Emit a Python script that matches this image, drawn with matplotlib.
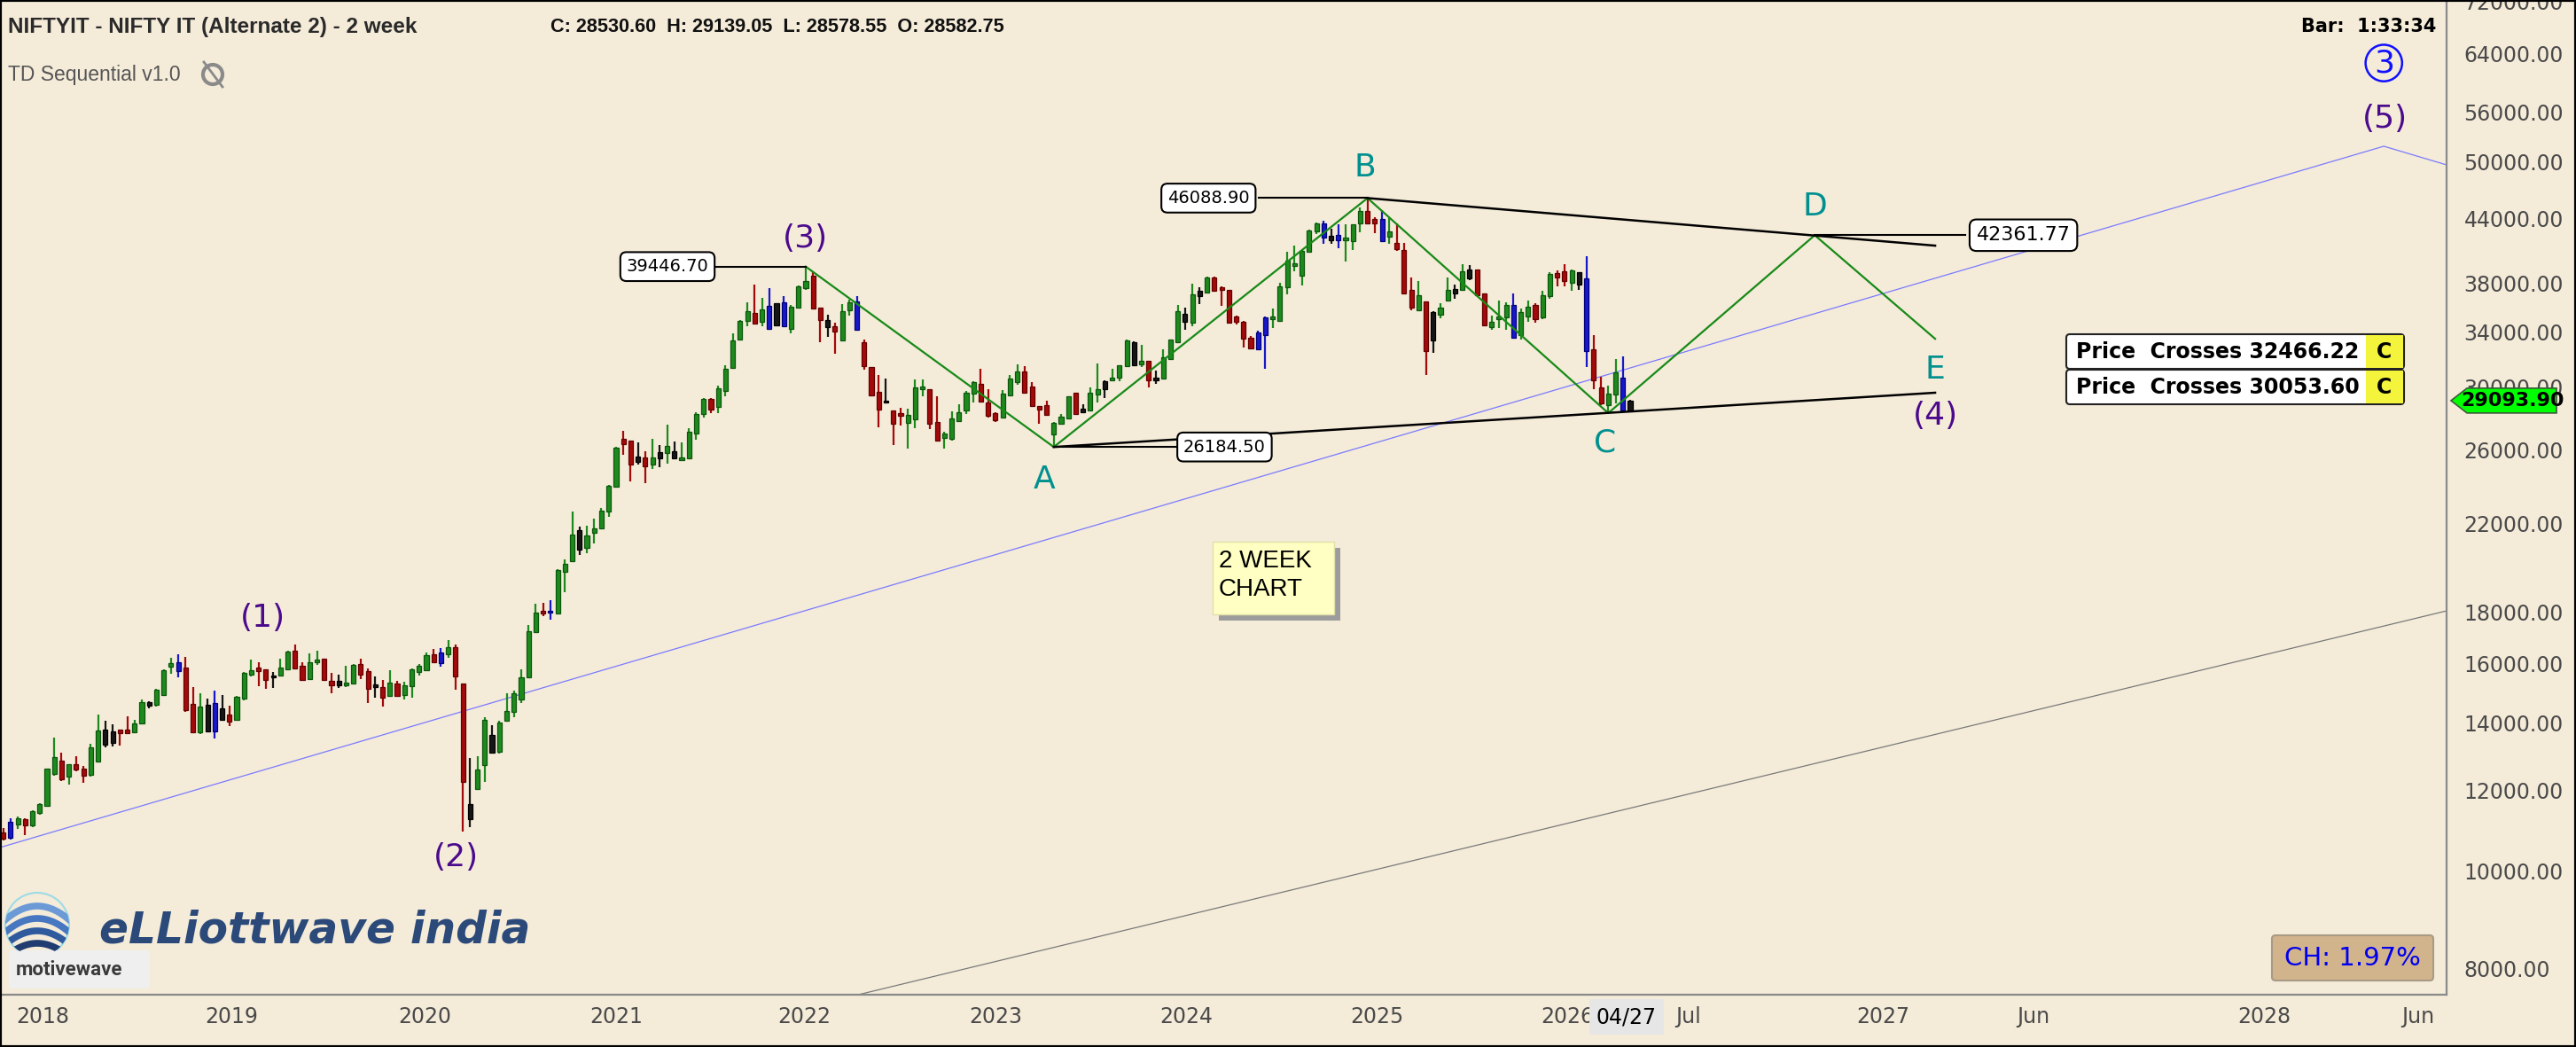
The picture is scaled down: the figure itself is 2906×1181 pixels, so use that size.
import numpy as np
import pandas as pd
import matplotlib
matplotlib.use("Agg")
import matplotlib.pyplot as plt
import matplotlib.transforms as mtransforms
from matplotlib.patches import Rectangle, FancyBboxPatch, Polygon, Circle
from matplotlib.ticker import NullLocator

W, H = 2906, 1181
BG = "#f4ebd9"

# ---------------- data ----------------
bar_dates = pd.date_range(end="2026-04-27", periods=224, freq="14D")

opens = [
    10905, 10780, 11097, 11239, 11075, 11398, 11583, 12454, 12836, 12388,
    12733, 12622, 12438, 12827, 13772, 13363, 13790, 13772, 13708, 13986,
    14679, 14581, 14908, 15910, 16071, 15857, 14601, 13699, 14581, 13727,
    14455, 14262, 14099, 14777, 15624, 15857, 15802, 15593, 15572, 15802,
    16486, 15942, 15457, 16049, 16179, 15385, 15251, 15231, 15313, 15996,
    15749, 15180, 15180, 14878, 15303, 14898, 15210, 15697, 15770, 16342,
    16017, 16342, 16620, 15287, 11235, 12036, 12706, 13610, 13110, 14052,
    14334, 14770, 15526, 17200, 18052, 17976, 17930, 19705, 20221, 21660,
    20838, 21568, 21755, 22614, 23913, 26676, 26562, 25290, 25553, 25180,
    25509, 25840, 25950, 25400, 25509, 26976, 28210, 29225, 28698, 29710,
    31365, 33450, 34863, 35472, 34773, 34270, 36300, 34477, 34270, 35930,
    37570, 38620, 35930, 34923, 34420, 33360, 35690, 36460, 33220, 31400,
    29700, 29085, 28430, 28300, 27680, 27860, 29860, 29860, 27720, 26730,
    26680, 27770, 28430, 29540, 30200, 28970, 28300, 28010, 29460, 30360,
    31070, 30040, 28720, 28810, 26950, 27620, 27960, 29640, 28560, 28430,
    29500, 29860, 30450, 30650, 31440, 33240, 31620, 31860, 30460, 30610,
    31970, 33220, 35400, 34700, 37310, 37190, 38500, 37630, 37440, 35190,
    34820, 33580, 32690, 33740, 35010, 34890, 37630, 39500, 38670, 40800,
    42730, 43550, 42330, 41890, 41910, 41830, 43490, 44730, 43990, 43990,
    42250, 41610, 40990, 37450, 35710, 36450, 33370, 35370, 36500, 37150,
    37400, 38410, 39190, 37150, 34370, 35010, 35130, 36160, 33740, 35250,
    36160, 35130, 36900, 38850, 39060, 38000, 38930, 38410, 32700, 30000,
    28820, 29500, 30620, 29090,
]
highs = [
    11020, 11260, 11320, 11261, 11475, 11661, 12622, 13525, 13070, 12750,
    12983, 12690, 13345, 14272, 14070, 13940, 13790, 14195, 14099, 14748,
    14698, 15108, 15802, 16233, 16342, 16266, 15180, 14977, 14777, 15047,
    14898, 14552, 14878, 15708, 16157, 16049, 15802, 15697, 16179, 16486,
    16709, 16071, 16375, 16486, 16179, 15676, 15624, 15932, 15985, 16200,
    15835, 15540, 15415, 15781, 15385, 15354, 15824, 15985, 16420, 16541,
    16597, 16880, 16731, 15287, 12925, 12959, 14185, 13930, 14052, 14953,
    15043, 15796, 17469, 18346, 18362, 18472, 19824, 20274, 22614, 21851,
    21890, 22267, 22808, 24016, 26182, 27163, 26562, 26450, 25950, 26676,
    26290, 27546, 26517, 26450, 27328, 28356, 29275, 29275, 30096, 31554,
    33885, 34923, 36363, 37894, 36774, 37570, 36300, 36869, 36145, 37800,
    39447, 38990, 35930, 35380, 34715, 36240, 36620, 36890, 33400, 31400,
    30810, 30560, 28430, 28620, 28580, 30510, 30510, 29860, 29360, 27090,
    28390, 28870, 29760, 30400, 31270, 29840, 28340, 29800, 30860, 31610,
    31440, 30340, 28760, 29110, 27720, 28200, 29400, 29640, 28850, 29960,
    31650, 30460, 31290, 31540, 33400, 33290, 32990, 31860, 31130, 32690,
    33440, 36150, 35910, 37940, 37630, 38580, 38580, 37690, 37440, 35290,
    34890, 33670, 34080, 35190, 35840, 37990, 40770, 41400, 40990, 42880,
    43640, 43760, 42960, 43400, 43400, 43460, 45120, 46089, 44140, 44880,
    44050, 43550, 41630, 38460, 38150, 36450, 35680, 36330, 38460, 37830,
    39640, 39560, 39190, 37150, 35300, 36500, 36400, 37120, 35850, 36500,
    36330, 37320, 38980, 39110, 39640, 39160, 38980, 40390, 33740, 30720,
    30100, 31980, 32190, 29140,
]
lows = [
    10710, 10730, 11000, 10853, 11037, 11352, 11568, 12413, 12272, 12165,
    12538, 12222, 12388, 12810, 13229, 13274, 13292, 13663, 13690, 13940,
    14455, 14533, 14878, 15645, 15519, 14339, 13699, 13635, 13727, 13517,
    14099, 13884, 14070, 14727, 15540, 15210, 15129, 15149, 15540, 15781,
    15802, 15385, 15436, 15963, 15415, 14977, 15149, 15180, 15282, 15457,
    14650, 14808, 14514, 14848, 14848, 14748, 14828, 15572, 15728, 16017,
    15910, 16233, 15078, 10930, 11044, 12036, 12243, 13047, 13047, 14027,
    14172, 14644, 15526, 17170, 17823, 17700, 17930, 18826, 20221, 20483,
    20571, 21013, 21718, 22363, 23872, 25730, 24224, 25180, 24120, 24921,
    25029, 25225, 25443, 25355, 25443, 26630, 27995, 28283, 28283, 29406,
    31284, 33364, 34477, 34623, 34477, 34270, 34477, 34420, 33885, 35840,
    37410, 35840, 33220, 33600, 32380, 33310, 35260, 34120, 31230, 29400,
    27360, 28910, 26320, 27490, 26110, 27310, 29400, 27270, 26550, 26110,
    26550, 27730, 28240, 28970, 29010, 28010, 27730, 28010, 29460, 30160,
    29560, 28660, 27590, 28150, 26185, 27590, 27920, 28240, 28280, 28370,
    28970, 29260, 30400, 30400, 31380, 31440, 31420, 30000, 30240, 30570,
    31910, 33130, 34190, 34420, 36200, 37140, 37310, 36080, 34630, 34590,
    32840, 32690, 32630, 31270, 34330, 34860, 37060, 39030, 37780, 40720,
    42450, 41550, 41550, 41130, 39910, 40990, 42680, 43550, 42530, 41830,
    41550, 40910, 37150, 35730, 35710, 30860, 32410, 35060, 36450, 36700,
    37320, 38250, 36950, 34430, 34200, 34310, 34200, 33520, 33410, 34830,
    34730, 35010, 36700, 37750, 37750, 37320, 37450, 31400, 29840, 28780,
    28280, 28920, 28400, 28400,
]
closes = [
    10765, 11186, 11261, 11075, 11452, 11630, 12605, 12949, 12313, 12733,
    12580, 12413, 13229, 13754, 13318, 13727, 13663, 13663, 13986, 14679,
    14552, 15078, 15770, 16017, 15728, 14416, 13699, 14533, 13727, 14630,
    14099, 14033, 14858, 15687, 15781, 15728, 15436, 15519, 15878, 16464,
    15835, 15436, 16049, 16157, 15436, 15251, 15385, 15334, 15963, 15624,
    15129, 15282, 14808, 15334, 14878, 15251, 15802, 15942, 16320, 16049,
    16420, 16620, 15561, 12243, 11627, 12597, 14088, 13073, 14003, 14369,
    14953, 15526, 17245, 17976, 17930, 18052, 19790, 20099, 21475, 20749,
    21420, 21755, 22672, 23954, 26137, 26336, 25180, 25619, 25072, 25575,
    25906, 26250, 25509, 25575, 27093, 28234, 29200, 28527, 29915, 31284,
    33364, 34863, 35624, 34623, 35776, 36083, 34538, 36394, 35990, 37734,
    38160, 35900, 34923, 34385, 34040, 35624, 36360, 34190, 31440, 29440,
    28490, 28970, 27620, 28090, 28150, 30000, 30060, 27590, 26550, 26980,
    27960, 28330, 29640, 30340, 29010, 28090, 27810, 29560, 30610, 31070,
    29600, 28720, 28530, 28180, 27680, 28070, 29360, 28240, 28330, 29600,
    29860, 30400, 30650, 31500, 33350, 31540, 31820, 30460, 30650, 32080,
    33400, 35670, 34770, 37060, 36860, 38500, 37310, 37380, 34700, 34820,
    33510, 32730, 33960, 35120, 35190, 37730, 39950, 39750, 40850, 42820,
    43490, 42110, 41890, 42390, 42110, 43400, 44730, 43550, 43550, 41830,
    42760, 41080, 37150, 35970, 36950, 32570, 35610, 35920, 37450, 37500,
    39030, 39190, 37000, 34500, 34830, 35250, 36160, 33560, 35610, 36010,
    35010, 36950, 38780, 38510, 38150, 39110, 37900, 32570, 30450, 28920,
    29560, 31020, 28440, 28440,
]
# candle colour codes as drawn (g up, r down, k / b TD sequential marks)
bar_colors = ("rbgrggggrg" "rrggkkrrgg" "kgggbrrgkb" "krgggrrkgg" "rrggrrkggr"
              "rkrgrggggr" "bgrrkggkgg" "ggggrbgggk" "gggggrrkrg" "kgkggggrgg"
              "gggrgbkbgg" "grrkrggbrr" "rkrrgggrrg" "ggggrrrggg" "rrrrgggrkg"
              "gkgggkgrkg" "ggkgkgrrrr" "rrbbgggggg" "gbkbgggrrb" "grrrgrkggk"
              "gkrrgggbgg" "rggrrgkbrr" "ggbk")

# wave count (bar index, price)
wave_x = [110, 144, 187, 220, 248.3, 264.8]
wave_y = [39446.70, 26184.50, 46088.90, 28280, 42361.77, 33480]
upper_x, upper_y = [187, 264.8], [46088.90, 41370]
lower_x, lower_y = [144, 264.8], [26184.50, 29620]
channel_x, channel_y = [-0.44, 326.3, 334.9], [10542, 51850, 49700]
base_x, base_y = [116.7, 334.9], [7531, 18046]

wave_labels = ["(1)", "(2)", "(3)", "A", "B", "C", "D", "E", "(4)", "(5)"]
label_x = [35.6, 62.1, 109.9, 142.7, 186.7, 219.5, 248.3, 264.8, 264.8, 326.4]
label_y = [17760, 10310, 42050, 24310, 49400, 26410, 45220, 31210, 28110, 55200]
label_col = ["p", "p", "p", "t", "t", "t", "t", "t", "p", "p"]

price_ticks = [8000, 10000, 12000, 14000, 16000, 18000, 22000, 26000, 30000,
               34000, 38000, 44000, 50000, 56000, 64000, 72000]
time_tick_x = [1.8, 27.7, 54.2, 80.4, 106.2, 132.4, 158.5, 184.6, 210.8,
               229.2, 254.0, 276.0, 306.2, 328.7]
time_tick_text = ["2018", "2019", "2020", "2021", "2022", "2023", "2024", "2025",
                  "2026", "Jul", "2027", "Jun", "2028", "Jun"]

last_price = 29093.90
crosses = [32466.22, 30053.60]

# ---------------- figure ----------------
fig = plt.figure(figsize=(W / 100, H / 100), dpi=100, facecolor=BG)
ax = fig.add_axes([0, 59 / H, 2760 / W, 1122 / H])
ax.set_facecolor(BG)
ax.set_yscale("log")
ax.set_xlim(-0.437, 334.9)
ax.set_ylim(7546, 72280)

for s in ["left", "top"]:
    ax.spines[s].set_visible(False)
for s in ["right", "bottom"]:
    ax.spines[s].set_color("#8a8a8a")
    ax.spines[s].set_linewidth(1.6)

ax.yaxis.tick_right()
ax.set_yticks(price_ticks)
ax.set_yticklabels([f"{t:.2f}" for t in price_ticks])
ax.yaxis.set_minor_locator(NullLocator())
ax.tick_params(axis="y", length=0, pad=14, labelsize=17, labelcolor="#4a4a4a")
ax.set_xticks([])

# candles
face = {"g": "#1e8a1e", "r": "#a30a0a", "k": "#161616", "b": "#1818c8"}
edge = {"g": "#0c560c", "r": "#650000", "k": "#000000", "b": "#00007a"}
x = np.arange(len(closes))
o = np.array(opens, float)
c = np.array(closes, float)
fc = [face[k] for k in bar_colors]
ec = [edge[k] for k in bar_colors]
ax.vlines(x, lows, highs, colors=fc, linewidth=1.6, zorder=2)
ax.bar(x, np.abs(c - o), bottom=np.minimum(o, c), width=0.62, color=fc,
       edgecolor=ec, linewidth=0.9, zorder=3)

# channel lines
ax.plot(channel_x, channel_y, color="#7a7aff", lw=0.9, zorder=1)
ax.plot(base_x, base_y, color="#7a7a7a", lw=0.9, zorder=1)

# triangle
ax.plot(wave_x, wave_y, color="#178a17", lw=1.6, zorder=4)
ax.plot(upper_x, upper_y, color="black", lw=1.8, zorder=4)
ax.plot(lower_x, lower_y, color="black", lw=1.8, zorder=4)

# value boxes with connectors
def value_box(xc, x_from, x_to, y, fs=14):
    ax.plot([x_from, x_to], [y, y], color="black", lw=1.5, zorder=4)
    ax.text(xc, y, f"{y:.2f}", ha="center", va="center", fontsize=fs, zorder=6,
            bbox=dict(boxstyle="round,pad=0.35,rounding_size=0.35", fc="white",
                      ec="black", lw=1.5))

value_box(91.05, 97.5, wave_x[0], wave_y[0])
value_box(165.2, 172.1, wave_x[2], wave_y[2])
value_box(167.4, wave_x[1], 160.8, wave_y[1])
value_box(276.9, wave_x[4], 268.9, wave_y[4], fs=16)

cols = {"p": "#4b0a8c", "t": "#00908f"}
for lx, ly, t, k in zip(label_x, label_y, wave_labels, label_col):
    ax.text(lx, ly, t, color=cols[k], fontsize=26, ha="center", va="center", zorder=6)
ax.text(326.3, 62640, "3", color="#1010ff", fontsize=26, ha="center", va="center",
        zorder=6, bbox=dict(boxstyle="circle,pad=0.1", fc="none", ec="#1010ff", lw=1.8))

# time axis labels
tr = mtransforms.blended_transform_factory(ax.transData, ax.transAxes)
for tx, tt in zip(time_tick_x, time_tick_text):
    ax.text(tx, -0.0223, tt, transform=tr, ha="left", va="center", fontsize=17,
            color="#4a4a4a", clip_on=False)
ax.text(x[-1] - 0.5, -0.0223, "04/27", transform=tr, ha="center", va="center",
        fontsize=17, color="black", clip_on=False, zorder=8,
        bbox=dict(boxstyle="square,pad=0.35", fc="#e6e6e6", ec="none"))

# last price marker on the price scale
anchor = mtransforms.ScaledTranslation(1.0, last_price,
                                       mtransforms.blended_transform_factory(ax.transAxes, ax.transData))
mtr = fig.dpi_scale_trans + anchor
ax.add_patch(Polygon([(0.05, 0), (0.23, 0.14), (1.24, 0.14), (1.24, -0.14), (0.23, -0.14)],
                     closed=True, transform=mtr, fc="#00ff00", ec="#3a5a3a", lw=1.2,
                     clip_on=False, zorder=10))
ax.text(0.74, 0, f"{last_price:.2f}", transform=mtr, ha="center", va="center",
        fontsize=16, fontweight="bold", color="black", zorder=11, clip_on=False)

# ---------------- overlay in pixel units ----------------
ov = fig.add_axes([0, 0, 1, 1])
ov.set_xlim(0, W)
ov.set_ylim(H, 0)
ov.axis("off")
ov.patch.set_alpha(0)

NARROW = ["Liberation Sans Narrow", "Liberation Sans", "DejaVu Sans"]
t_title = ov.text(9, 30, "NIFTYIT - NIFTY IT (Alternate 2) - 2 week", family=NARROW,
                  fontstretch="condensed", fontsize=18, fontweight="bold",
                  color="#2a2a2a", va="center")
t_vals = ov.text(621, 30, "C: 28530.60  H: 29139.05  L: 28578.55  O: 28582.75",
                 family=NARROW, fontstretch="condensed", fontsize=18,
                 fontweight="bold", color="#111111", va="center")
t_td = ov.text(9, 84, "TD Sequential v1.0", family=NARROW, fontstretch="condensed",
               fontsize=17, color="#555555", va="center")

# shrink the header texts to the widths they take in the chart
fig.canvas.draw()
rend = fig.canvas.get_renderer()
for t, target in [(t_title, 460), (t_vals, 513), (t_td, 195)]:
    w = t.get_window_extent(rend).width
    if w > target:
        t.set_fontsize(t.get_fontsize() * target / w)

ov.add_patch(Circle((240, 84), 11, fc="none", ec="#8a8a8a", lw=3))
ov.plot([230, 251], [70, 98], color="#8a8a8a", lw=2)
ov.text(2748, 30, "Bar:  1:33:34", fontsize=15, fontweight="bold", color="black",
        ha="right", va="center")

# price crosses table
for i, val in enumerate(crosses):
    y0 = 377 + i * 40
    ov.add_patch(FancyBboxPatch((2331, y0), 381, 39, boxstyle="round,pad=0,rounding_size=4",
                                fc="white", ec="#222222", lw=1.5))
    ov.add_patch(Rectangle((2669, y0 + 1), 42, 37, fc="#f4f43c", ec="none"))
    ov.text(2342, y0 + 20, f"Price  Crosses {val:.2f}", fontsize=17, fontweight="bold",
            va="center", color="black")
    ov.text(2690, y0 + 20, "C", fontsize=17, fontweight="bold", va="center",
            ha="center", color="black")

# 2 week note
ov.add_patch(Rectangle((1375, 618), 137, 82, fc="#9c9c9c", ec="none"))
ov.add_patch(Rectangle((1368, 611), 137, 82, fc="#ffffc4", ec="#e0e0a8", lw=1))
ov.text(1375, 633, "2 WEEK", family=["Liberation Sans", "DejaVu Sans"], fontsize=20,
        va="center", color="black")
ov.text(1375, 665, "CHART", family=["Liberation Sans", "DejaVu Sans"], fontsize=20,
        va="center", color="black")

# CH box
ov.add_patch(FancyBboxPatch((2563, 1055), 182, 51, boxstyle="round,pad=0,rounding_size=4",
                            fc="#d2b48c", ec="#a89a85", lw=1.5))
ov.text(2654, 1081, "CH: 1.97%", fontsize=21, color="#0000ee", ha="center", va="center")

# logo
globe = Circle((42, 1043), 36, transform=ov.transData)
ov.add_patch(Circle((42, 1043), 36, fc="none", ec="#9ddbe6", lw=1.5))
gx = np.linspace(4, 80, 60)
for yc, colr in zip([1022, 1036, 1050, 1064], ["#6b9ad6", "#4677c0", "#2f5a9e", "#203c70"]):
    ln, = ov.plot(gx, yc + 0.012 * (gx - 42) ** 2, color=colr, lw=5.5,
                  solid_capstyle="butt")
    ln.set_clip_path(globe)
ov.text(112, 1050, "eLLiottwave india", fontsize=35, fontweight="bold",
        fontstyle="italic", color="#2b4a7a", va="center")
ov.add_patch(FancyBboxPatch((10, 1072), 159, 43, boxstyle="round,pad=0,rounding_size=4",
                            fc="#efefef", ec="none"))
ov.text(18, 1094, "motivewave", family=["Roboto", "DejaVu Sans"], fontsize=16,
        fontweight="bold", color="#3a3a3a", va="center")

fig.patches.append(Rectangle((0, 0), 1, 1, transform=fig.transFigure, fill=False,
                             ec="black", lw=3))

fig.savefig("out.png", dpi=100, facecolor=BG)
